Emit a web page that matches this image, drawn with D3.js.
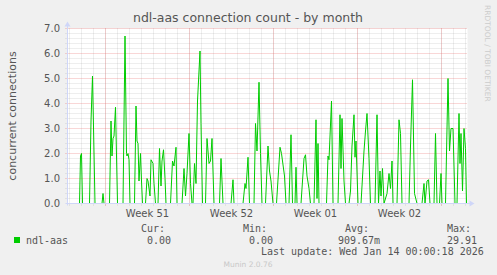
<!DOCTYPE html>
<html lang="en">
<head>
<meta charset="UTF-8">
<title>ndl-aas connection count - by month</title>
<style>
  body { margin: 0; padding: 0; background: #f0f0f0; }
  svg { display: block; font-family: "DejaVu Sans", sans-serif; }
  .txt { fill: #555; }
  .mono { font-family: "DejaVu Sans Mono", monospace; font-size: 10px; fill: #555; }
</style>
</head>
<body>
<div id="chart"></div>
<script src="https://cdn.jsdelivr.net/npm/d3@7"></script>
<script>
// graph window: 800 hours ending Jan 14, 2h per pixel
const startTime = "2025-12-11T20:00:00Z";
const endTime = "2026-01-14T04:00:00Z";
const weekStarts = ["2025-12-15", "2025-12-22", "2025-12-29", "2026-01-05", "2026-01-12"];
const weekLabels = ["Week 51", "Week 52", "Week 01", "Week 02"];
const yTicks = [0, 1, 2, 3, 4, 5, 6, 7];

// hours after startTime, concurrent connections at that hour
const hourOffset = [
  0, 24, 26, 28, 30, 44, 47, 50, 55, 69, 71, 73,
  84, 87, 89, 91, 93, 96, 100, 111, 115, 118, 119, 121, 123, 125,
  134, 137, 139, 141, 143, 146, 148, 150, 156, 159, 161, 165, 167, 171, 173, 176,
  181, 184, 187, 189, 192, 195, 197, 206, 210, 213, 217, 219,
  229, 233, 236, 239, 243, 246, 249, 251, 254, 257, 260, 265, 267, 270,
  276, 279, 283, 286, 289, 293, 304, 307, 311, 327, 331, 333,
  351, 355, 357, 361, 364, 373, 376, 379, 383, 386, 389,
  396, 401, 404, 407, 411, 418, 425, 428, 434, 437, 443, 447, 450, 455, 457, 459,
  467, 473, 476, 479, 483, 486, 493, 497, 499, 501, 503,
  518, 521, 523, 528, 531, 541, 545, 547, 549, 553, 556,
  563, 566, 569, 573, 575, 577, 581, 587, 593, 596, 599, 603, 606,
  615, 619, 622, 625, 627, 630, 633, 639, 643, 646, 649, 651, 659, 663, 666, 669,
  683, 686, 690, 694, 699, 709, 713, 715, 719, 722, 725, 733, 736, 739, 744, 747, 749,
  756, 761, 764, 767, 771, 775, 779, 783, 785, 787, 790, 793, 796, 798, 800
];
const connections = [
  0, 0, 1.9, 2.0, 0, 0, 3.3, 5.1, 0, 0, 0.4, 0,
  0, 3.3, 1.9, 2.6, 2.7, 3.85, 0, 0, 6.7, 2.0, 1.9, 2.0, 1.75, 0,
  0, 3.9, 2.5, 2.4, 0.9, 2.0, 0.9, 0, 0, 1.0, 0.9, 0.3, 1.75, 1.6, 0.8, 0,
  0, 2.2, 0.7, 1.7, 2.15, 1.0, 0, 0, 1.7, 1.5, 2.25, 0,
  0, 1.4, 0.3, 1.2, 2.8, 0.8, 0, 0, 1.6, 0.8, 4.1, 6.1, 3.2, 0,
  0, 2.6, 1.6, 1.7, 2.6, 0, 0, 1.8, 0, 0, 0.95, 0,
  0, 0.8, 0.6, 1.85, 0, 0, 3.2, 2.1, 4.85, 2.0, 0,
  0, 2.3, 1.3, 0.9, 0, 0, 2.25, 2.0, 1.1, 0, 0, 2.75, 0, 0, 1.45, 0,
  0, 1.8, 1.95, 1.1, 0.6, 0, 0, 3.35, 0.2, 2.4, 0,
  0, 1.9, 1.75, 4.1, 0, 0, 3.55, 1.4, 3.4, 0.9, 0,
  0, 0.5, 2.3, 3.55, 1.85, 2.5, 0, 0, 2.1, 2.9, 3.6, 1.8, 0,
  0, 3.55, 0, 1.3, 0.3, 1.4, 0, 0.4, 1.2, 0.6, 1.7, 0, 0, 3.35, 2.8, 0,
  0, 2.3, 4.95, 0.4, 0, 0, 0.8, 0, 0.9, 0.95, 0, 0, 2.8, 0, 0, 1.2, 0,
  0, 5.0, 2.1, 3.0, 3.0, 0, 0, 3.6, 1.6, 2.8, 0.5, 3.0, 2.2, 0, 0
];

const statNames = ["Cur:", "Min:", "Avg:", "Max:"];
const statValues = ["0.00", "0.00", "909.67m", "29.91"];

const w = 497;
const h = 275;
const pLeft = 67.5, pRight = 467.5, pTop = 28.5, pBottom = 203.5;

const t0 = new Date(startTime);
const t1 = new Date(endTime);
const data = hourOffset.map((hr, i) => ({
  t: new Date(t0.getTime() + hr * 3600000),
  v: connections[i]
}));

const x = d3.scaleUtc().domain([t0, t1]).range([pLeft, pRight]);
const y = d3.scaleLinear().domain([0, 7]).range([pBottom, pTop]);

const svg = d3.select("#chart").append("svg")
  .attr("width", w)
  .attr("height", h);

svg.append("rect").attr("width", w).attr("height", h).attr("fill", "#f0f0f0");
svg.append("rect")
  .attr("x", pLeft).attr("y", pTop)
  .attr("width", pRight - pLeft).attr("height", pBottom - pTop)
  .attr("fill", "#ffffff");

// minor grid
const days = d3.utcDay.range(d3.utcDay.ceil(t0), t1);
const minorY = d3.range(0, 7.01, 0.2).filter(v => Math.abs(v - Math.round(v)) > 0.01);
const gridCol = "rgba(140,140,140,0.3)";
const mgridCol = "rgba(235,110,110,0.55)";

svg.append("g").selectAll("line")
  .data(days)
  .enter().append("line")
  .attr("x1", d => x(d)).attr("x2", d => x(d))
  .attr("y1", pTop).attr("y2", pBottom + 2)
  .attr("stroke", gridCol)
  .attr("stroke-dasharray", "1,1");

svg.append("g").selectAll("line")
  .data(minorY)
  .enter().append("line")
  .attr("x1", pLeft - 2).attr("x2", pRight)
  .attr("y1", d => y(d)).attr("y2", d => y(d))
  .attr("stroke", gridCol)
  .attr("stroke-dasharray", "1,1");

// major grid
svg.append("g").selectAll("line")
  .data(weekStarts.map(d => new Date(d + "T00:00:00Z")))
  .enter().append("line")
  .attr("x1", d => x(d)).attr("x2", d => x(d))
  .attr("y1", pTop).attr("y2", pBottom + 2)
  .attr("stroke", mgridCol)
  .attr("stroke-dasharray", "1,1");

svg.append("g").selectAll("line")
  .data(yTicks.slice(1))
  .enter().append("line")
  .attr("x1", pLeft - 2).attr("x2", pRight)
  .attr("y1", d => y(d)).attr("y2", d => y(d))
  .attr("stroke", mgridCol)
  .attr("stroke-dasharray", "1,1");

// data line
svg.append("path")
  .datum(data)
  .attr("fill", "none")
  .attr("stroke", "#00cc00")
  .attr("stroke-width", 1)
  .attr("d", d3.line().x(d => x(d.t)).y(d => y(d.v)));

// axes with arrows
const axisCol = "#cfd6f8";
svg.append("line")
  .attr("x1", pLeft - 2).attr("x2", pRight + 3)
  .attr("y1", pBottom).attr("y2", pBottom)
  .attr("stroke", axisCol);
svg.append("path")
  .attr("d", `M${pRight + 7},${pBottom} L${pRight + 2},${pBottom - 3} L${pRight + 2},${pBottom + 3}Z`)
  .attr("fill", axisCol);
svg.append("line")
  .attr("x1", pLeft).attr("x2", pLeft)
  .attr("y1", pBottom + 2).attr("y2", pTop - 3)
  .attr("stroke", axisCol);
svg.append("path")
  .attr("d", `M${pLeft},${pTop - 7} L${pLeft - 3},${pTop - 2} L${pLeft + 3},${pTop - 2}Z`)
  .attr("fill", axisCol);

// tick labels
svg.append("g").selectAll("text")
  .data(yTicks)
  .enter().append("text")
  .attr("class", "txt")
  .attr("x", 60)
  .attr("y", d => y(d) + 3.5)
  .attr("text-anchor", "end")
  .attr("font-size", 10)
  .text(d => d3.format(".1f")(d));

svg.append("g").selectAll("text")
  .data(weekLabels)
  .enter().append("text")
  .attr("class", "txt")
  .attr("x", (d, i) => x(d3.utcHour.offset(new Date(weekStarts[i] + "T00:00:00Z"), 84)))
  .attr("y", 217)
  .attr("text-anchor", "middle")
  .attr("font-size", 10)
  .text(d => d);

// titles
svg.append("text")
  .attr("class", "txt")
  .attr("x", 248).attr("y", 22)
  .attr("text-anchor", "middle")
  .attr("font-size", 12.5)
  .text("ndl-aas connection count - by month");

svg.append("text")
  .attr("class", "txt")
  .attr("transform", "translate(15.5,116) rotate(-90)")
  .attr("text-anchor", "middle")
  .attr("font-size", 11)
  .text("concurrent connections");

svg.append("text")
  .attr("transform", "translate(485,5) rotate(90)")
  .attr("fill", "#cccccc")
  .attr("font-size", 7.5)
  .text("RRDTOOL / TOBI OETIKER");

// legend
svg.append("rect")
  .attr("x", 14).attr("y", 237)
  .attr("width", 6).attr("height", 6)
  .attr("fill", "#00cc00");
svg.append("text").attr("class", "mono").attr("x", 26).attr("y", 243.5).text("ndl-aas");

const headX = [141, 243, 345, 447];
const valX = [147, 249, 338, 447];
svg.append("g").selectAll("text")
  .data(statNames)
  .enter().append("text")
  .attr("class", "mono")
  .attr("x", (d, i) => headX[i]).attr("y", 231.5)
  .text(d => d);
svg.append("g").selectAll("text")
  .data(statValues)
  .enter().append("text")
  .attr("class", "mono")
  .attr("x", (d, i) => valX[i]).attr("y", 243.5)
  .text(d => d);

svg.append("text").attr("class", "mono")
  .attr("x", 261).attr("y", 254.5)
  .text("Last update: Wed Jan 14 00:00:18 2026");

svg.append("text")
  .attr("x", 248).attr("y", 266.5)
  .attr("text-anchor", "middle")
  .attr("fill", "#c8c8c8")
  .attr("font-size", 7.5)
  .text("Munin 2.0.76");
</script>
</body>
</html>
